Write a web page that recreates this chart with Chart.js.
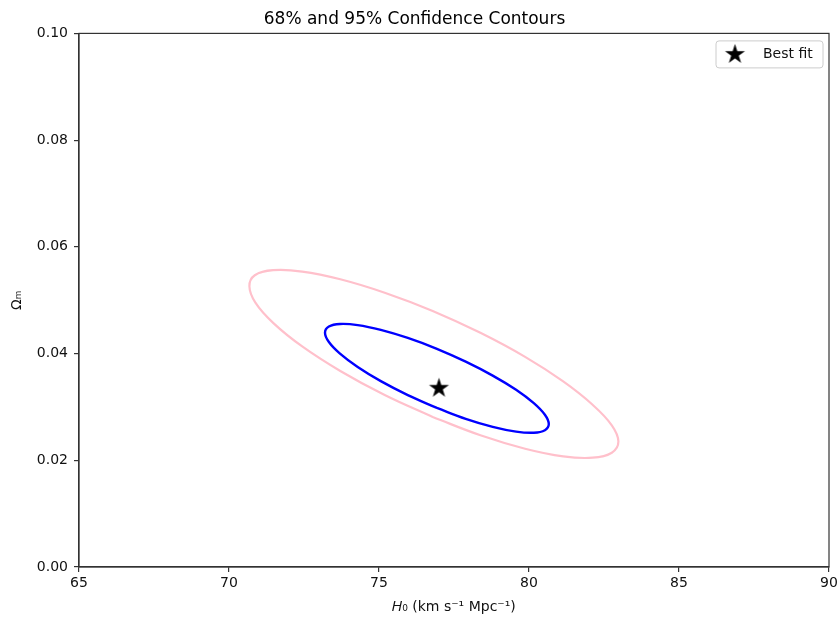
<!DOCTYPE html>
<html><head><meta charset="utf-8">
<script src="https://cdn.jsdelivr.net/npm/chart.js@4.4.1/dist/chart.umd.min.js"></script>
<style>html,body{margin:0;padding:0;background:#fff;}</style>
</head><body>
<canvas id="c" width="837" height="617"></canvas>
<script>
// ---- data ----
const chartTitle = '68% and 95% Confidence Contours';
const xLabel = '\uD835\uDC3B\u2080 (km s\u207B\u00B9 Mpc\u207B\u00B9)';
const yLabel = '\u03A9\u2098';
const xTicks = [65, 70, 75, 80, 85, 90];
const yTicks = [0.00, 0.02, 0.04, 0.06, 0.08, 0.10];

// 95% contour (pink)
const c95H  = [76.79, 75.19, 73.71, 72.44, 71.48, 70.88, 70.68, 70.86, 71.47, 72.44, 73.71, 75.19, 76.79, 78.38, 79.87, 81.14, 82.12, 82.76, 82.98, 82.76, 82.12, 81.14, 79.87, 78.38, 76.79];
const c95Om = [0.02811, 0.03222, 0.03673, 0.04133, 0.04570, 0.04954, 0.05260, 0.05468, 0.05562, 0.05537, 0.05393, 0.05141, 0.04799, 0.04388, 0.03937, 0.03477, 0.03040, 0.02656, 0.02350, 0.02142, 0.02048, 0.02073, 0.02217, 0.02469, 0.02811];

// 68% contour (blue)
const c68H  = [76.93, 75.96, 75.06, 74.29, 73.70, 73.33, 73.20, 73.33, 73.70, 74.29, 75.06, 75.96, 76.93, 77.89, 78.79, 79.57, 80.16, 80.53, 80.66, 80.53, 80.16, 79.57, 78.79, 77.89, 76.93];
const c68Om = [0.02981, 0.03222, 0.03483, 0.03749, 0.04000, 0.04218, 0.04392, 0.04506, 0.04554, 0.04533, 0.04443, 0.04292, 0.04089, 0.03848, 0.03587, 0.03321, 0.03070, 0.02852, 0.02678, 0.02564, 0.02516, 0.02537, 0.02627, 0.02778, 0.02981];

// best fit
const bestH  = [77.0];
const bestOm = [0.0335];

const seriesLabels = ['95% contour', '68% contour', 'Best fit'];

// ---- styling ----
const F = "'DejaVu Sans', sans-serif";
function makeStar(R) {
  const s = Math.ceil(2 * R + 2);
  const cv = document.createElement('canvas');
  cv.width = cv.height = s;
  const g = cv.getContext('2d');
  g.translate(s / 2, s / 2);
  g.beginPath();
  for (let i = 0; i < 10; i++) {
    const r = i % 2 ? R * 0.382 : R;
    const a = -Math.PI / 2 + i * Math.PI / 5;
    g.lineTo(r * Math.cos(a), r * Math.sin(a));
  }
  g.closePath();
  g.fillStyle = '#000';
  g.fill();
  return cv;
}
const star = makeStar(10.5);

const toPts = (xs, ys) => xs.map((x, i) => ({x: x, y: ys[i]}));

const framePlugin = {
  id: 'frame',
  afterDraw(chart) {
    const ctx = chart.ctx, a = chart.chartArea;
    ctx.save();
    ctx.strokeStyle = '#333';
    ctx.lineWidth = 1.2;
    ctx.strokeRect(a.left, a.top, a.right - a.left, a.bottom - a.top);
    // legend box (matplotlib style, upper right inside axes)
    const x0 = a.right - 113, x1 = a.right - 6;
    const y0 = a.top + 7.5, y1 = a.top + 34.5;
    const cy = (y0 + y1) / 2;
    ctx.fillStyle = 'rgba(255,255,255,0.8)';
    ctx.strokeStyle = '#cccccc';
    ctx.lineWidth = 1;
    ctx.beginPath();
    if (ctx.roundRect) ctx.roundRect(x0, y0, x1 - x0, y1 - y0, 3);
    else ctx.rect(x0, y0, x1 - x0, y1 - y0);
    ctx.fill();
    ctx.stroke();
    const ds = chart.data.datasets[2];
    ctx.drawImage(ds.pointStyle, x0 + 19 - ds.pointStyle.width / 2, cy - ds.pointStyle.height / 2);
    ctx.fillStyle = '#111';
    ctx.font = '14px ' + F;
    ctx.textAlign = 'left';
    ctx.textBaseline = 'middle';
    ctx.fillText(ds.label, x0 + 47, cy);
    ctx.restore();
  }
};

const axisCommon = {
  type: 'linear',
  grid: {display: true, drawOnChartArea: false, drawTicks: true, tickLength: 5, color: '#333', lineWidth: 1.2},
  border: {display: true, color: '#333', width: 1.2},
};

new Chart(document.getElementById('c'), {
  type: 'scatter',
  data: {
    datasets: [
      {label: seriesLabels[0], data: toPts(c95H, c95Om), showLine: true, borderColor: '#ffc0cb', borderWidth: 2.2, pointRadius: 0, tension: 0.4, fill: false},
      {label: seriesLabels[1], data: toPts(c68H, c68Om), showLine: true, borderColor: '#0000ff', borderWidth: 2.4, pointRadius: 0, tension: 0.4, fill: false},
      {label: seriesLabels[2], data: toPts(bestH, bestOm), showLine: false, pointStyle: star, pointRadius: 10, backgroundColor: '#000', borderColor: '#000'}
    ]
  },
  options: {
    responsive: false,
    animation: false,
    devicePixelRatio: 1,
    layout: {autoPadding: false, padding: {left: 0, right: 8, top: 0, bottom: 0}},
    plugins: {
      title: {display: true, text: chartTitle, color: '#000', font: {family: F, size: 17, weight: 'normal'}, padding: {top: 9, bottom: 4}},
      legend: {display: false},
      tooltip: {enabled: false}
    },
    scales: {
      x: Object.assign({}, axisCommon, {
        min: xTicks[0], max: xTicks[xTicks.length - 1],
        afterBuildTicks: (s) => { s.ticks = xTicks.map(v => ({value: v})); },
        afterFit: (s) => { s.height = 50; s.paddingRight = 0; s.paddingLeft = 0; },
        ticks: {color: '#111', padding: 3, font: {family: F, size: 14}, callback: (v) => String(v)},
        title: {display: true, text: xLabel, color: '#111', font: {family: F, size: 14}, padding: {top: 4, bottom: 1}}
      }),
      y: Object.assign({}, axisCommon, {
        min: yTicks[0], max: yTicks[yTicks.length - 1],
        afterBuildTicks: (s) => { s.ticks = yTicks.map(v => ({value: v})); },
        afterFit: (s) => { s.width = 79; s.paddingTop = 0; s.paddingBottom = 0; },
        ticks: {color: '#111', padding: 6, font: {family: F, size: 14}, callback: (v) => Number(v).toFixed(2)},
        title: {display: true, text: yLabel, color: '#111', font: {family: F, size: 14}, padding: {top: 9, bottom: 0}}
      })
    }
  },
  plugins: [framePlugin]
});
</script>
</body></html>
